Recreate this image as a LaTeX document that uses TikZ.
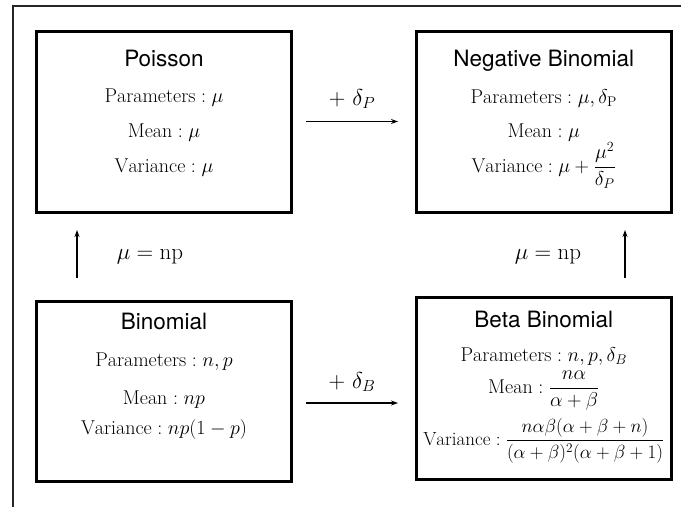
\RequirePackage{fix-cm}
\documentclass[tikz,border=0pt]{standalone}
\usepackage{fontspec}
\newfontfamily\hel{TeX Gyre Heros}
\usetikzlibrary{arrows.meta}
\tikzset{
  dbox/.style={draw=black, line width=3pt, inner sep=0pt},
  ttl/.style={anchor=base, inner sep=0pt, font=\fontsize{22.5}{27}\hel},
  txt/.style={anchor=base, inner sep=0pt, font=\fontsize{20}{24}\selectfont},
  lbl/.style={anchor=base, inner sep=0pt, font=\fontsize{23}{28}\selectfont},
  conn/.style={line width=1.3pt, -{Stealth[length=7pt,width=5pt]}},
}
\begin{document}
\begin{tikzpicture}[x=1pt,y=-1pt]
\useasboundingbox (0,0) rectangle (681,507);
% outer frame (cropped)
\draw[line width=2pt, color=black!85] (12.5,507) -- (12.5,5.5) -- (681,5.5);
% boxes
\node[dbox, minimum width=255pt, minimum height=181.5pt] (pois) at (164,121.75) {};
\node[dbox, minimum width=254.5pt, minimum height=181.5pt] (negb) at (543.75,121.75) {};
\node[dbox, minimum width=255pt, minimum height=180.5pt] (binom) at (164,391.25) {};
\node[dbox, minimum width=254.5pt, minimum height=181.5pt] (betab) at (543.75,388.25) {};
% Poisson
\node[ttl] (pt) at (164,66) {Poisson};
\node[txt] (p1) at (164,102) {$\mathrm{Parameters}:\mu$};
\node[txt] (p2) at (164,137) {$\mathrm{Mean}:\mu$};
\node[txt] (p3) at (164,172) {$\mathrm{Variance}:\mu$};
% Negative Binomial
\node[ttl] (nt) at (543.75,66) {Negative Binomial};
\node[txt] (n1) at (543.75,103) {$\mathrm{Parameters}:\mu,\delta_{\mathrm{P}}$};
\node[txt] (n2) at (543.75,137) {$\mathrm{Mean}:\mu$};
\node[txt] (n3) at (543.75,172) {$\mathrm{Variance}:\mu+\displaystyle\frac{\mu^2}{\delta_P}$};
% Binomial
\node[ttl] (bt) at (164,329) {Binomial};
\node[txt] (b1) at (164,366) {$\mathrm{Parameters}:n,p$};
\node[txt] (b2) at (164,404) {$\mathrm{Mean}:np$};
\node[txt] (b3) at (164,434) {$\mathrm{Variance}:np(1-p)$};
% Beta Binomial
\node[ttl] (et) at (543.75,327) {Beta Binomial};
\node[txt] (e1) at (543.75,361) {$\mathrm{Parameters}:n,p,\delta_B$};
\node[txt] (e2) at (543.75,393) {$\mathrm{Mean}:\displaystyle\frac{n\alpha}{\alpha+\beta}$};
\node[txt, font=\fontsize{19}{23}\selectfont] (e3) at (543.75,445) {$\mathrm{Variance}:\displaystyle\frac{n\alpha\beta(\alpha+\beta+n)}{(\alpha+\beta)^2(\alpha+\beta+1)}$};
% connectors
\coordinate (a1s) at (306,121.5);
\coordinate (a1e) at (398,121.5);
\coordinate (a2s) at (306,403);
\coordinate (a2e) at (398,403);
\coordinate (a3s) at (77,278);
\coordinate (a3e) at (77,230);
\coordinate (a4s) at (625,278);
\coordinate (a4e) at (625,230);
\draw[conn] (a1s) -- (a1e);
\draw[conn] (a2s) -- (a2e);
\draw[conn] (a3s) -- (a3e);
\draw[conn] (a4s) -- (a4e);
\node[lbl] (l1) at (352,105) {$+\ \delta_P$};
\node[lbl] (l2) at (352,388) {$+\ \delta_B$};
\node[lbl] (l3) at (150,259) {$\mu=\mathrm{np}$};
\node[lbl] (l4) at (548,259) {$\mu=\mathrm{np}$};
\end{tikzpicture}
\end{document}
